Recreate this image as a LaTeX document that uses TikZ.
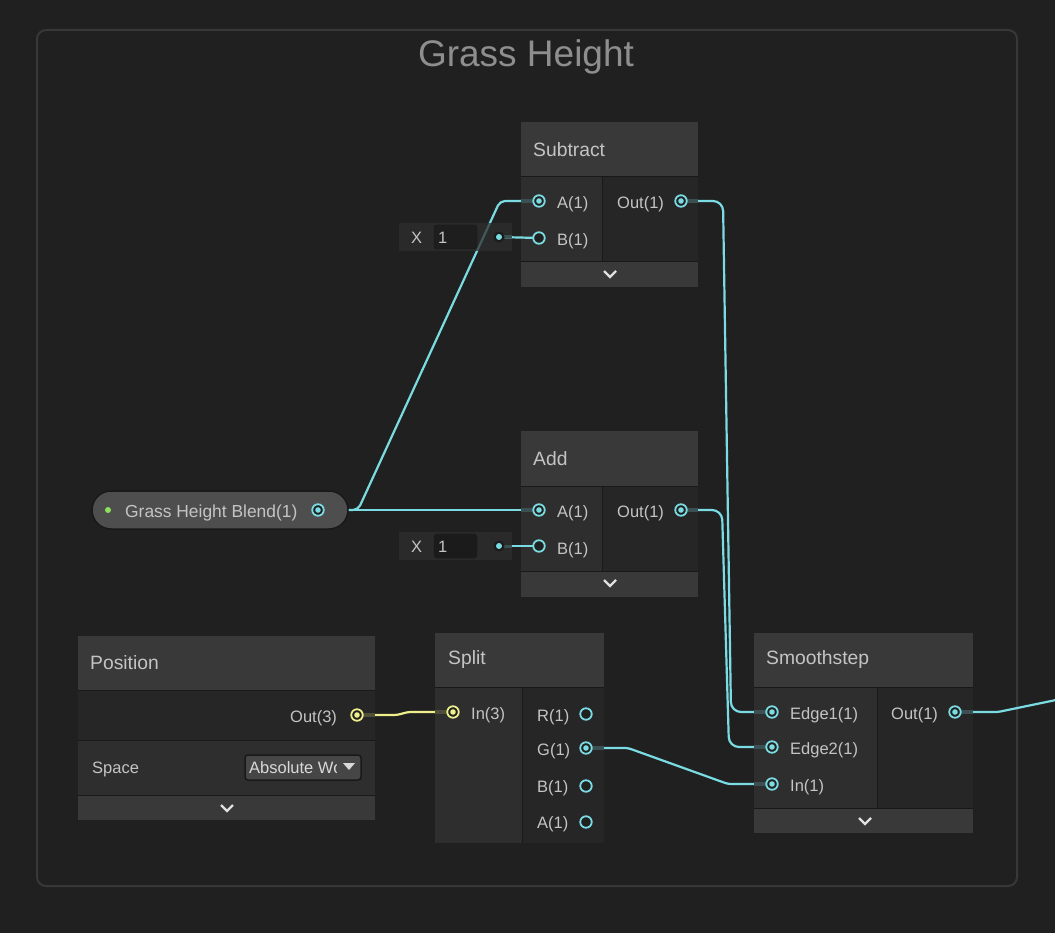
\documentclass[tikz,border=0pt]{standalone}
\usepackage{fontspec}
\setmainfont{Liberation Sans}
\usepackage{xcolor}
\usetikzlibrary{positioning}

\definecolor{bgc}{HTML}{202020}
\definecolor{framec}{HTML}{383838}
\definecolor{titlec}{HTML}{8E8E8E}
\definecolor{hdrc}{HTML}{393939}
\definecolor{colin}{HTML}{2E2E2E}
\definecolor{colout}{HTML}{262626}
\definecolor{edgec}{HTML}{191919}
\definecolor{txtc}{HTML}{C4C4C4}
\definecolor{wirec}{HTML}{7ADCE2}
\definecolor{ywirec}{HTML}{EEEE8C}
\definecolor{stubc}{HTML}{3A5052}
\definecolor{ystubc}{HTML}{50503A}
\definecolor{pillc}{HTML}{4E4E4E}
\definecolor{boxc}{HTML}{1B1B1B}
\definecolor{dropc}{HTML}{464646}
\definecolor{greenc}{HTML}{8EE05A}

\tikzset{
  wire/.style={draw=wirec, line width=2.2pt, rounded corners=7pt},
  ywire/.style={draw=ywirec, line width=2.2pt, rounded corners=3pt},
  stub/.style={draw=stubc, line width=3.5pt},
  ystub/.style={draw=ystubc, line width=3.5pt},
  port/.style={circle, draw=wirec, line width=1.8pt, fill=bgc, inner sep=0pt, minimum size=11.5pt},
  portcon/.style={port, path picture={\fill[wirec] (path picture bounding box.center) circle (2.8pt);}},
  yportcon/.style={circle, draw=ywirec, line width=1.8pt, fill=bgc, inner sep=0pt, minimum size=11.5pt,
    path picture={\fill[ywirec] (path picture bounding box.center) circle (2.8pt);}},
  lbl/.style={anchor=west, inner sep=0pt, text=txtc, font=\fontsize{16.5}{18}\selectfont},
  hdr/.style={anchor=west, inner sep=0pt, text=txtc, font=\fontsize{19.3}{21}\selectfont},
  chev/.style={draw=white!88!black, line width=2.2pt},
  sep/.style={draw=edgec, line width=1pt},
  field/.style={fill=colin, fill opacity=0.75},
}

\begin{document}
\begin{tikzpicture}[x=1pt,y=1pt,yscale=-1,xscale=1]
\useasboundingbox (0,0) rectangle (1055,933);
\fill[bgc] (0,0) rectangle (1055,933);

%Group frame
\draw[framec, line width=2pt, rounded corners=9pt] (37,30) rectangle (1017,886);
% Text Node
\node[text=titlec, font=\fontsize{37}{40}\selectfont, inner sep=0pt] (title) at (526,57) {Grass Height};

%Port positions
\coordinate (blendOut) at (318,510);
\coordinate (subA) at (539,201);
\coordinate (subB) at (539,238);
\coordinate (subOut) at (681,201);
\coordinate (subX) at (499,237);
\coordinate (addA) at (539,510);
\coordinate (addB) at (539,546);
\coordinate (addOut) at (681,510);
\coordinate (addX) at (499,546);
\coordinate (posOut) at (357,715);
\coordinate (splIn) at (453,712);
\coordinate (splR) at (586,714);
\coordinate (splG) at (586,748);
\coordinate (splB) at (586,786);
\coordinate (splA) at (586,822);
\coordinate (smE1) at (772,712);
\coordinate (smE2) at (772,747);
\coordinate (smIn) at (772,784);
\coordinate (smOut) at (955,712);
\coordinate (offR) at (1056,700);

%Wires
\draw[wire, rounded corners=5pt] (blendOut) -- (358,510) -- (500,201) -- (subA);
\draw[wire] (blendOut) -- (addA);
\draw[wire, rounded corners=10pt] (subOut) -- (723,201) -- (731,712) -- (smE1);
\draw[wire, rounded corners=10pt] (addOut) -- (722,510) -- (729,747) -- (smE2);
\draw[wire, rounded corners=3pt] (splG) -- (628,748) -- (728,784) -- (smIn);
\draw[wire, rounded corners=3pt] (smOut) -- (998,712) -- (offR);
\draw[ywire] (posOut) -- (397,715) -- (408,712) -- (splIn);

%Grass Height Blend property
\filldraw[fill=pillc, draw=edgec, line width=1.5pt, rounded corners=19pt] (92,491) rectangle (348,529);
\fill[greenc] (108,510) circle (3pt);
\node[lbl, font=\fontsize{17.4}{19}\selectfont] (blendLbl) at (125,513) {Grass Height Blend(1)};

%Subtract node
\fill[hdrc] (521,122) rectangle (698,177);
\fill[colin] (521,177) rectangle (602,262);
\fill[colout] (602,177) rectangle (698,262);
\fill[hdrc] (521,262) rectangle (698,287);
\draw[sep] (521,177) -- (698,177) (602,177) -- (602,262) (521,262) -- (698,262);
\draw[chev] (604,271) -- (610,277) -- (616,271);
\node[hdr] (subHdr) at (533,150) {Subtract};
\node[lbl] (subALbl) at (557,204) {A(1)};
\node[lbl] (subBLbl) at (557,241) {B(1)};
\node[lbl] (subOutLbl) at (617,204) {Out(1)};

%Add node
\fill[hdrc] (521,431) rectangle (698,486);
\fill[colin] (521,486) rectangle (602,571);
\fill[colout] (602,486) rectangle (698,571);
\fill[hdrc] (521,571) rectangle (698,597);
\draw[sep] (521,486) -- (698,486) (602,486) -- (602,571) (521,571) -- (698,571);
\draw[chev] (604,580) -- (610,586) -- (616,580);
\node[hdr] (addHdr) at (533,459) {Add};
\node[lbl] (addALbl) at (557,513) {A(1)};
\node[lbl] (addBLbl) at (557,550) {B(1)};
\node[lbl] (addOutLbl) at (617,513) {Out(1)};

%X fields
\fill[field] (399,223) rectangle (512,251);
\filldraw[fill=boxc, draw=edgec, fill opacity=0.8, rounded corners=3pt] (434,225) rectangle (477,249);
\node[lbl] (subXLbl) at (411,238) {X};
\node[lbl] (subXVal) at (438,238) {1};
\fill[field] (399,532) rectangle (512,560);
\filldraw[fill=boxc, draw=edgec, rounded corners=3pt] (434,534) rectangle (477,558);
\node[lbl] (addXLbl) at (411,547) {X};
\node[lbl] (addXVal) at (438,547) {1};
\draw[wire] (subX) -- (subB);
\draw[wire] (addX) -- (addB);
\draw[stub, line width=3pt] (subX) -- (512,237);
\draw[stub, line width=3pt] (addX) -- (512,546);
\fill[boxc] (subX) circle (5.5pt);
\fill[wirec] (subX) circle (3pt);
\fill[boxc] (addX) circle (5.5pt);
\fill[wirec] (addX) circle (3pt);

%Position node
\fill[hdrc] (78,636) rectangle (375,690);
\fill[colout] (78,690) rectangle (375,740);
\fill[colin] (78,740) rectangle (375,795);
\fill[hdrc] (78,795) rectangle (375,820);
\draw[sep] (78,690) -- (375,690) (78,740) -- (375,740) (78,795) -- (375,795);
\draw[chev] (221,805) -- (227,811) -- (233,805);
\node[hdr] (posHdr) at (90,663) {Position};
\node[lbl] (posOutLbl) at (290,718) {Out(3)};
\node[lbl] (spaceLbl) at (92,769) {Space};
\filldraw[fill=dropc, draw=edgec, line width=1.5pt, rounded corners=3pt] (245,755) rectangle (361,780);
\begin{scope}
  \clip (245,755) rectangle (336,780);
  \node[lbl, text=white!85!black] (spaceVal) at (249,768) {Absolute World};
\end{scope}
\fill[white!85!black] (343,763) -- (355,763) -- (349,770) -- cycle;

%Split node
\fill[hdrc] (435,633) rectangle (604,687);
\fill[colin] (435,687) rectangle (522,843);
\fill[colout] (522,687) rectangle (604,843);
\draw[sep] (435,687) -- (604,687) (522,687) -- (522,843);
\node[hdr] (splHdr) at (448,660) {Split};
\node[lbl] (splInLbl) at (471,715) {In(3)};
\node[lbl] (splRLbl) at (537,717) {R(1)};
\node[lbl] (splGLbl) at (537,751) {G(1)};
\node[lbl] (splBLbl) at (537,788) {B(1)};
\node[lbl] (splALbl) at (537,824) {A(1)};

%Smoothstep node
\fill[hdrc] (754,633) rectangle (973,687);
\fill[colin] (754,687) rectangle (877,808);
\fill[colout] (877,687) rectangle (973,808);
\fill[hdrc] (754,808) rectangle (973,833);
\draw[sep] (754,687) -- (973,687) (877,687) -- (877,808) (754,808) -- (973,808);
\draw[chev] (859,818) -- (865,824) -- (871,818);
\node[hdr] (smHdr) at (766,660) {Smoothstep};
\node[lbl] (smE1Lbl) at (790,715) {Edge1(1)};
\node[lbl] (smE2Lbl) at (790,750) {Edge2(1)};
\node[lbl] (smInLbl) at (790,787) {In(1)};
\node[lbl] (smOutLbl) at (891,715) {Out(1)};

%Stubs
\draw[stub] (subA) -- (521,201);
\draw[stub] (subOut) -- (698,201);
\draw[stub] (addA) -- (521,510);
\draw[stub] (addOut) -- (698,510);
\draw[ystub] (posOut) -- (375,715);
\draw[ystub] (splIn) -- (435,712);
\draw[stub] (splG) -- (604,748);
\draw[stub] (smE1) -- (754,712);
\draw[stub] (smE2) -- (754,747);
\draw[stub] (smIn) -- (754,784);
\draw[stub] (smOut) -- (973,712);

%Ports
\node[portcon] (pBlendOut) at (blendOut) {};
\node[portcon] (pSubA) at (subA) {};
\node[port] (pSubB) at (subB) {};
\node[portcon] (pSubOut) at (subOut) {};
\node[portcon] (pAddA) at (addA) {};
\node[port] (pAddB) at (addB) {};
\node[portcon] (pAddOut) at (addOut) {};
\node[yportcon] (pPosOut) at (posOut) {};
\node[yportcon] (pSplIn) at (splIn) {};
\node[port] (pSplR) at (splR) {};
\node[portcon] (pSplG) at (splG) {};
\node[port] (pSplB) at (splB) {};
\node[port] (pSplA) at (splA) {};
\node[portcon] (pSmE1) at (smE1) {};
\node[portcon] (pSmE2) at (smE2) {};
\node[portcon] (pSmIn) at (smIn) {};
\node[portcon] (pSmOut) at (smOut) {};

\end{tikzpicture}
\end{document}
